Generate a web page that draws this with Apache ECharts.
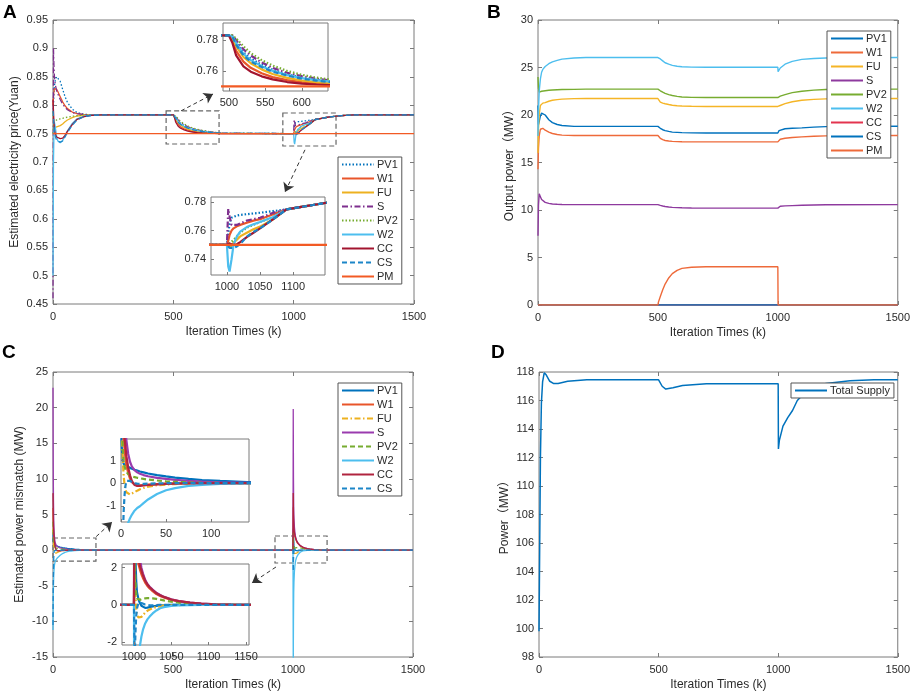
<!DOCTYPE html>
<html>
<head>
<meta charset="utf-8">
<title>Iteration results</title>
<script src="https://cdn.jsdelivr.net/npm/echarts@6.0.0/dist/echarts.min.js"></script>
<style>
  html, body { margin: 0; padding: 0; background: #fff; }
  #chart { width: 913px; height: 696px; }
</style>
</head>
<body>
<div id="chart"></div>
<script>
// ---- data ----
// A: estimated electricity price (Yuan)
const iterA = [0, 2, 4, 6, 10, 15, 20, 30, 40, 50, 60, 80, 100, 130, 160, 200,
  500, 505, 510, 520, 530, 545, 560, 580, 600, 620, 640, 670, 700,
  1000, 1002, 1004, 1007, 1010, 1015, 1020, 1030, 1040, 1050, 1070, 1090, 1110, 1130, 1150, 1200, 1250, 1500];
const pv1A = [0.78, 0.80, 0.82, 0.835, 0.845, 0.85, 0.85, 0.842, 0.828, 0.815, 0.805, 0.793, 0.787, 0.784, 0.783, 0.783,
  0.783, 0.7825, 0.779, 0.772, 0.768, 0.764, 0.7608, 0.7578, 0.7557, 0.7542, 0.7531, 0.7515, 0.7505,
  0.75, 0.758, 0.765, 0.769, 0.7698, 0.7705, 0.771, 0.7715, 0.772, 0.7725, 0.7737, 0.7748, 0.7764, 0.7779, 0.7795, 0.7818, 0.7828, 0.783];
const w1A = [0.80, 0.815, 0.825, 0.829, 0.83, 0.828, 0.824, 0.815, 0.806, 0.799, 0.794, 0.788, 0.785, 0.7835, 0.783, 0.783,
  0.783, 0.780, 0.773, 0.766, 0.762, 0.7585, 0.756, 0.754, 0.7528, 0.752, 0.7513, 0.7506, 0.7502,
  0.75, 0.753, 0.757, 0.760, 0.7616, 0.763, 0.764, 0.7655, 0.767, 0.768, 0.7715, 0.7748, 0.7764, 0.7779, 0.7795, 0.7818, 0.7828, 0.783];
const fuA = [0.79, 0.77, 0.76, 0.757, 0.76, 0.762, 0.763, 0.764, 0.767, 0.771, 0.774, 0.778, 0.781, 0.7825, 0.783, 0.783,
  0.783, 0.781, 0.776, 0.769, 0.765, 0.761, 0.758, 0.7555, 0.7538, 0.7527, 0.752, 0.751, 0.7503,
  0.75, 0.7485, 0.7477, 0.749, 0.7515, 0.7537, 0.756, 0.7585, 0.761, 0.7628, 0.768, 0.7748, 0.7764, 0.7779, 0.7795, 0.7818, 0.7828, 0.783];
const sA = [0.46, 0.9, 0.87, 0.85, 0.835, 0.826, 0.82, 0.81, 0.802, 0.796, 0.792, 0.787, 0.785, 0.7835, 0.783, 0.783,
  0.783, 0.783, 0.780, 0.774, 0.770, 0.7655, 0.762, 0.7588, 0.7566, 0.755, 0.7538, 0.752, 0.7508,
  0.75, 0.7751, 0.770, 0.764, 0.7628, 0.764, 0.765, 0.767, 0.768, 0.769, 0.7725, 0.7748, 0.7764, 0.7779, 0.7795, 0.7818, 0.7828, 0.783];
const pv2A = [0.75, 0.765, 0.77, 0.772, 0.773, 0.774, 0.775, 0.776, 0.777, 0.778, 0.779, 0.7805, 0.7815, 0.7825, 0.783, 0.783,
  0.783, 0.783, 0.781, 0.776, 0.7715, 0.767, 0.7635, 0.760, 0.7575, 0.7557, 0.7543, 0.7523, 0.751,
  0.75, 0.75, 0.751, 0.752, 0.7535, 0.756, 0.7585, 0.762, 0.764, 0.766, 0.7695, 0.7748, 0.7764, 0.7779, 0.7795, 0.7818, 0.7828, 0.783];
const w2A = [0.50, 0.70, 0.75, 0.77, 0.76, 0.745, 0.737, 0.734, 0.738, 0.746, 0.755, 0.768, 0.776, 0.781, 0.7825, 0.783,
  0.783, 0.782, 0.778, 0.771, 0.767, 0.763, 0.760, 0.7573, 0.7553, 0.754, 0.753, 0.7514, 0.7505,
  0.75, 0.735, 0.7314, 0.740, 0.750, 0.756, 0.7593, 0.7625, 0.7644, 0.766, 0.7695, 0.7748, 0.7764, 0.7779, 0.7795, 0.7818, 0.7828, 0.783];
const ccA = [0.81, 0.79, 0.77, 0.757, 0.748, 0.744, 0.742, 0.741, 0.742, 0.747, 0.754, 0.766, 0.775, 0.780, 0.782, 0.783,
  0.783, 0.778, 0.770, 0.763, 0.7595, 0.7565, 0.7545, 0.7528, 0.7518, 0.7512, 0.7508, 0.7504, 0.7502,
  0.75, 0.751, 0.751, 0.7505, 0.750, 0.7505, 0.752, 0.7555, 0.7585, 0.7616, 0.768, 0.7748, 0.7764, 0.7779, 0.7795, 0.7818, 0.7828, 0.783];
const csA = [0.79, 0.78, 0.765, 0.755, 0.745, 0.738, 0.736, 0.735, 0.737, 0.744, 0.752, 0.765, 0.774, 0.78, 0.782, 0.783,
  0.783, 0.782, 0.777, 0.770, 0.766, 0.7625, 0.7595, 0.757, 0.755, 0.7537, 0.7528, 0.7513, 0.7505,
  0.75, 0.749, 0.748, 0.7477, 0.748, 0.749, 0.7505, 0.7558, 0.759, 0.7616, 0.768, 0.7748, 0.7764, 0.7779, 0.7795, 0.7818, 0.7828, 0.783];
const iterPM = [0, 1500];
const pmA = [0.75, 0.75];

// B: output power (MW)
const iterB = [0, 2, 5, 10, 15, 20, 30, 45, 60, 80, 100, 150, 200, 500, 502, 510, 520, 530, 545, 560,
  580, 600, 640, 700, 1000, 1001, 1005, 1010, 1030, 1060, 1100, 1150, 1200, 1500];
const pv1B = [21.0, 19.0, 19.3, 19.9, 20.2, 20.3, 20.0, 19.5, 19.2, 19.0, 18.9, 18.8, 18.8, 18.8, 18.75, 18.6, 18.45, 18.35, 18.27, 18.2,
  18.17, 18.14, 18.12, 18.1, 18.1, 18.1, 18.35, 18.5, 18.55, 18.6, 18.65, 18.72, 18.78, 18.82];
const w1B = [14.3, 16.5, 17.8, 18.5, 18.7, 18.6, 18.4, 18.2, 18.05, 17.95, 17.88, 17.84, 17.84, 17.84, 17.75, 17.55, 17.4, 17.32, 17.26, 17.22,
  17.2, 17.18, 17.17, 17.17, 17.17, 17.2, 17.35, 17.45, 17.55, 17.63, 17.7, 17.76, 17.8, 17.84];
const fuB = [16.0, 18.5, 20.0, 21.0, 21.2, 21.25, 21.3, 21.45, 21.55, 21.62, 21.67, 21.72, 21.73, 21.73, 21.6, 21.35, 21.25, 21.18, 21.1, 21.03,
  20.98, 20.95, 20.92, 20.9, 20.9, 20.85, 20.9, 21.0, 21.2, 21.4, 21.55, 21.65, 21.7, 21.73];
const sB = [7.3, 10.5, 11.7, 11.4, 11.1, 10.95, 10.8, 10.7, 10.63, 10.6, 10.58, 10.57, 10.57, 10.57, 10.55, 10.48, 10.42, 10.37, 10.32, 10.28,
  10.25, 10.23, 10.21, 10.2, 10.2, 10.2, 10.35, 10.4, 10.43, 10.46, 10.5, 10.53, 10.55, 10.57];
const pv2B = [24.0, 22.8, 22.4, 22.45, 22.5, 22.52, 22.55, 22.6, 22.63, 22.66, 22.68, 22.7, 22.72, 22.72, 22.68, 22.55, 22.4, 22.28, 22.15, 22.05,
  21.96, 21.9, 21.86, 21.84, 21.84, 21.84, 21.9, 21.98, 22.15, 22.35, 22.5, 22.62, 22.68, 22.72];
const w2B = [17.8, 20.5, 22.5, 23.8, 24.5, 24.8, 25.1, 25.4, 25.6, 25.75, 25.88, 26.0, 26.05, 26.05, 26.0, 25.9, 25.7, 25.5, 25.35, 25.22,
  25.13, 25.08, 25.04, 25.03, 25.03, 24.55, 24.75, 24.95, 25.35, 25.65, 25.85, 25.95, 26.0, 26.05];
const iterFlatB = [0, 1500];
const ccB = [0, 0];
const csB = [0, 0];
const pmB = [0, 0, 0, 0, 0, 0, 0, 0, 0, 0, 0, 0, 0, 0, 0.3, 0.9, 1.6, 2.2, 2.85, 3.3,
  3.65, 3.85, 3.98, 4.02, 4.02, 0, 0, 0, 0, 0, 0, 0, 0, 0];

// C: estimated power mismatch (MW)
const iterC = [0, 1, 2, 3, 4, 5, 6, 8, 10, 12, 15, 18, 21, 25, 30, 40, 50, 60, 75, 90, 110, 140, 200,
  1000, 1001, 1002, 1003, 1004, 1006, 1008, 1010, 1012, 1015, 1018, 1021, 1025, 1030, 1035, 1040, 1050, 1060, 1075, 1090, 1110, 1130, 1150, 1200, 1500];
const pv1C = [2.5, 1.5, 1.0, 0.85, 0.82, 0.8, 0.78, 0.72, 0.68, 0.64, 0.6, 0.56, 0.52, 0.48, 0.43, 0.36, 0.3, 0.25, 0.19, 0.14, 0.1, 0.05, 0,
  0, 3.0, 2.5, 1.3, 0.7, 0.3, 0.1, -0.05, -0.12, -0.16, -0.15, -0.12, -0.08, -0.05, -0.03, -0.02, 0, 0, 0, 0, 0, 0, 0, 0, 0];
const w1C = [5.9, 3.5, 2.5, 1.9, 1.5, 1.1, 0.8, 0.45, 0.2, 0.05, -0.05, -0.1, -0.1, -0.08, -0.06, -0.04, -0.02, -0.01, 0, 0, 0, 0, 0,
  0, 6, 4, 3.2, 2.7, 2.2, 1.9, 1.65, 1.45, 1.2, 1.02, 0.88, 0.74, 0.58, 0.48, 0.4, 0.27, 0.19, 0.11, 0.06, 0.03, 0.01, 0, 0, 0];
const fuC = [3.0, 2.0, 1.0, 0.3, -0.1, -0.3, -0.4, -0.48, -0.5, -0.47, -0.4, -0.33, -0.27, -0.21, -0.15, -0.09, -0.06, -0.04, -0.02, -0.01, 0, 0, 0,
  0, 1.5, 0.5, -0.2, -0.5, -0.68, -0.7, -0.65, -0.55, -0.42, -0.32, -0.25, -0.18, -0.11, -0.07, -0.04, -0.02, -0.01, 0, 0, 0, 0, 0, 0, 0];
const sC = [22.8, 12, 7, 4.5, 3.2, 2.4, 1.9, 1.3, 0.95, 0.75, 0.58, 0.48, 0.42, 0.36, 0.31, 0.24, 0.19, 0.15, 0.1, 0.07, 0.04, 0.02, 0,
  0, 19.8, 10, 6, 4.5, 3.2, 2.5, 2.0, 1.7, 1.35, 1.12, 0.98, 0.82, 0.65, 0.53, 0.44, 0.3, 0.2, 0.12, 0.07, 0.03, 0.01, 0, 0, 0];
const pv2C = [4, 2.5, 1.5, 1.0, 0.75, 0.6, 0.5, 0.4, 0.35, 0.3, 0.27, 0.24, 0.22, 0.19, 0.16, 0.12, 0.08, 0.06, 0.04, 0.02, 0.01, 0, 0,
  0, 2.5, 1.2, 0.6, 0.35, 0.27, 0.27, 0.3, 0.33, 0.35, 0.36, 0.36, 0.35, 0.32, 0.28, 0.24, 0.17, 0.12, 0.07, 0.04, 0.02, 0.01, 0, 0, 0];
const w2C = [-11.2, -7, -5, -3.8, -3.0, -2.5, -2.1, -1.75, -1.55, -1.4, -1.22, -1.1, -1.02, -0.88, -0.72, -0.48, -0.31, -0.22, -0.12, -0.07, -0.03, -0.01, 0,
  0, -17, -10, -6, -4.5, -3.0, -2.2, -1.7, -1.35, -1.0, -0.78, -0.63, -0.46, -0.3, -0.18, -0.12, -0.06, -0.03, -0.01, 0, 0, 0, 0, 0, 0];
const ccC = [8, 5, 3.5, 2.6, 2.0, 1.6, 1.2, 0.7, 0.35, 0.1, -0.08, -0.12, -0.12, -0.1, -0.08, -0.05, -0.03, -0.02, -0.01, 0, 0, 0, 0,
  0, 8, 5, 3.8, 3.0, 2.5, 2.1, 1.85, 1.6, 1.3, 1.1, 0.95, 0.8, 0.63, 0.52, 0.43, 0.29, 0.2, 0.12, 0.07, 0.03, 0.01, 0, 0, 0];
const csC = [-10.5, -5, -2.5, -1.2, -0.5, -0.1, 0.1, 0.15, 0.1, 0.05, 0, -0.02, -0.03, -0.03, -0.02, -0.01, 0, 0, 0, 0, 0, 0, 0,
  0, -3, -1.5, -0.6, -0.2, 0.1, 0.15, 0.1, 0.05, 0.02, 0, -0.02, -0.02, -0.01, 0, 0, 0, 0, 0, 0, 0, 0, 0, 0, 0];

// D: total supply (MW)
const iterD = [0, 3, 6, 10, 15, 22, 30, 45, 60, 80, 120, 200, 500, 505, 515, 530, 560, 600, 700, 1000,
  1001, 1005, 1020, 1040, 1060, 1080, 1100, 1150, 1200, 1300, 1400, 1500];
const supplyD = [99.8, 106, 112, 115.8, 117.3, 117.95, 117.8, 117.35, 117.2, 117.2, 117.35, 117.45, 117.45, 117.4, 117.0, 116.8, 116.9, 117.05, 117.18, 117.18,
  112.6, 113.2, 114.2, 114.8, 115.3, 116.0, 116.35, 116.9, 117.2, 117.38, 117.45, 117.45];

const namesAB = ['PV1', 'W1', 'FU', 'S', 'PV2', 'W2', 'CC', 'CS', 'PM'];
const namesC = ['PV1', 'W1', 'FU', 'S', 'PV2', 'W2', 'CC', 'CS'];

// ---- styles ----
const FONT = "'Liberation Sans', Arial, 'Noto Sans CJK SC', sans-serif";
const FRAME = '#7a7a7a';
const TEXT = '#2a2a2a';
const SOLID = 'solid';
const DOT = [1.5, 2];
const DASH = [5, 3];
const DASHDOT = [6, 2.5, 1.5, 2.5];

function zip(xs, ys) {
  return xs.map((x, i) => [x, ys[i]]);
}

function line(name, xs, ys, color, dash, width, axis, z) {
  return {
    type: 'line',
    name: name,
    data: zip(xs, ys),
    xAxisIndex: axis,
    yAxisIndex: axis,
    symbol: 'none',
    color: color,
    z: z,
    silent: true,
    lineStyle: { color: color, width: width, type: dash }
  };
}

// grid index: 0 A, 1 A-inset1, 2 A-inset2, 3 B, 4 C, 5 C-inset1, 6 C-inset2, 7 D
const grids = [
  { left: 53, top: 20, width: 361, height: 284 },
  { left: 223, top: 23, width: 105, height: 68, z: 10 },
  { left: 211, top: 197, width: 114, height: 78, z: 10 },
  { left: 538, top: 20, width: 361, height: 285 },
  { left: 53, top: 372, width: 360, height: 285 },
  { left: 121, top: 439, width: 128, height: 83, z: 10 },
  { left: 122, top: 564, width: 127, height: 81, z: 10 },
  { left: 539, top: 372, width: 360, height: 285 }
].map(g => Object.assign({ show: true, backgroundColor: '#fff', borderColor: FRAME, borderWidth: 1 }, g));

const plain = v => String(v);
const labelStyle = { color: TEXT, fontSize: 11, fontFamily: FONT, formatter: plain };
const tickStyle = { inside: true, length: 4, lineStyle: { color: FRAME } };

function mainX(grid, name) {
  return {
    type: 'value', gridIndex: grid, min: 0, max: 1500, interval: 500,
    name: name, nameLocation: 'middle', nameGap: 22,
    nameTextStyle: { color: TEXT, fontSize: 12, fontFamily: FONT },
    axisLine: { show: false, onZero: false },
    axisTick: tickStyle,
    axisLabel: Object.assign({ margin: 7 }, labelStyle),
    splitLine: { show: false }
  };
}
function mainY(grid, min, max, interval, name, gap) {
  return {
    type: 'value', gridIndex: grid, min: min, max: max, interval: interval,
    name: name, nameLocation: 'middle', nameGap: gap,
    nameTextStyle: { color: TEXT, fontSize: 12, fontFamily: FONT },
    axisLine: { show: false, onZero: false },
    axisTick: tickStyle,
    axisLabel: Object.assign({ margin: 5 }, labelStyle),
    splitLine: { show: false }
  };
}
function mirror(axis, position) {
  return Object.assign({}, axis, {
    position: position, name: '', axisLabel: { show: false }
  });
}
function insetAxis(grid, min, max, ticks, margin) {
  return {
    type: 'value', gridIndex: grid, min: min, max: max, z: 12,
    axisLine: { show: false, onZero: false },
    axisTick: { inside: true, length: 3, lineStyle: { color: FRAME }, customValues: ticks },
    axisLabel: Object.assign({ margin: margin, customValues: ticks }, labelStyle),
    splitLine: { show: false }
  };
}

const xMainA = mainX(0, 'Iteration Times (k)');
const xMainB = mainX(3, 'Iteration Times (k)');
const xMainC = mainX(4, 'Iteration Times (k)');
const xMainD = mainX(7, 'Iteration Times (k)');
const yMainA = mainY(0, 0.45, 0.95, 0.05, 'Estimated electricity price(Yuan)', 32);
const yMainB = mainY(3, 0, 30, 5, 'Output power（MW）', 22);
const yMainC = mainY(4, -15, 25, 5, 'Estimated power mismatch (MW)', 27);
const yMainD = mainY(7, 98, 118, 2, 'Power（MW）', 28);

const xAxes = [
  xMainA,
  insetAxis(1, 492, 636, [500, 550, 600], 6),
  insetAxis(2, 976, 1148, [1000, 1050, 1100], 6),
  xMainB,
  xMainC,
  insetAxis(5, 0, 142, [0, 50, 100], 6),
  insetAxis(6, 984, 1154, [1000, 1050, 1100, 1150], 6),
  xMainD,
  mirror(xMainA, 'top'), mirror(xMainB, 'top'), mirror(xMainC, 'top'), mirror(xMainD, 'top')
];
const yAxes = [
  yMainA,
  insetAxis(1, 0.747, 0.791, [0.76, 0.78], 5),
  insetAxis(2, 0.729, 0.7835, [0.74, 0.76, 0.78], 5),
  yMainB,
  yMainC,
  insetAxis(5, -1.72, 1.96, [-1, 0, 1], 5),
  insetAxis(6, -2.16, 2.2, [-2, 0, 2], 5),
  yMainD,
  mirror(yMainA, 'right'), mirror(yMainB, 'right'), mirror(yMainC, 'right'), mirror(yMainD, 'right')
];

// ---- series ----
const colorsA = ['#0072BD', '#E8552A', '#EDB120', '#7E2F8E', '#77AC30', '#4DBEEE', '#A2142F', '#1C86C8', '#F25A24'];
const dashA = [DOT, SOLID, SOLID, DASHDOT, DOT, SOLID, SOLID, DASH, SOLID];
const seriesA = [
  [iterA, pv1A], [iterA, w1A], [iterA, fuA], [iterA, sA], [iterA, pv2A],
  [iterA, w2A], [iterA, ccA], [iterA, csA], [iterPM, pmA]
];
const colorsB = ['#0072BD', '#EE6A3A', '#F5B526', '#8E3A9E', '#77AC30', '#4DBEEE', '#E3344F', '#0072BD', '#EE6A3A'];
const seriesB = [
  [iterB, pv1B], [iterB, w1B], [iterB, fuB], [iterB, sB], [iterB, pv2B],
  [iterB, w2B], [iterFlatB, ccB], [iterFlatB, csB], [iterB, pmB]
];
const colorsC = ['#0072BD', '#E8552A', '#EDB120', '#9A3BAE', '#77AC30', '#4DBEEE', '#B0243F', '#1C86C8'];
const dashC = [SOLID, SOLID, DASHDOT, SOLID, DASH, SOLID, SOLID, DASH];
const seriesC = [
  [iterC, pv1C], [iterC, w1C], [iterC, fuC], [iterC, sC], [iterC, pv2C],
  [iterC, w2C], [iterC, ccC], [iterC, csC]
];

const series = [];
namesAB.forEach((n, i) => {
  series.push(line('A:' + n, seriesA[i][0], seriesA[i][1], colorsA[i], dashA[i], 1.3, 0, 2));
});
namesAB.forEach((n, i) => {
  series.push(line('A:' + n, seriesA[i][0], seriesA[i][1], colorsA[i], dashA[i], 2.2, 1, 11));
  series.push(line('A:' + n, seriesA[i][0], seriesA[i][1], colorsA[i], dashA[i], 2.2, 2, 11));
});
namesAB.forEach((n, i) => {
  series.push(line('B:' + n, seriesB[i][0], seriesB[i][1], colorsB[i], SOLID, 1.4, 3, 2));
});
namesC.forEach((n, i) => {
  series.push(line('C:' + n, seriesC[i][0], seriesC[i][1], colorsC[i], dashC[i], 1.3, 4, 2));
});
namesC.forEach((n, i) => {
  series.push(line('C:' + n, seriesC[i][0], seriesC[i][1], colorsC[i], dashC[i], 2.2, 5, 11));
  series.push(line('C:' + n, seriesC[i][0], seriesC[i][1], colorsC[i], dashC[i], 2.2, 6, 11));
});
series.push(line('D:Total Supply', iterD, supplyD, '#0072BD', SOLID, 1.5, 7, 2));

// zoom boxes and arrows, placed in data space of the main panels
const boxStyle = { color: 'rgba(0,0,0,0)', borderColor: '#666', borderWidth: 1.2, borderType: [5, 3] };
const arrowStyle = { color: '#333', width: 1, type: [4, 3] };
const pmMain = series[8];
pmMain.markArea = {
  silent: true, label: { show: false }, itemStyle: boxStyle,
  data: [
    [{ coord: [470, 0.79] }, { coord: [690, 0.7317] }],
    [{ coord: [955, 0.7863] }, { coord: [1176, 0.7282] }]
  ]
};
pmMain.markLine = {
  silent: true, symbol: ['none', 'arrow'], symbolSize: 9, label: { show: false },
  lineStyle: arrowStyle,
  data: [
    [{ coord: [532, 0.79] }, { coord: [665, 0.8197] }],
    [{ coord: [1047, 0.7214] }, { coord: [964, 0.647] }]
  ]
};
const csMainC = series.find(s => s.name === 'C:CS' && s.xAxisIndex === 4);
csMainC.markArea = {
  silent: true, label: { show: false }, itemStyle: boxStyle,
  data: [
    [{ coord: [0, 1.7] }, { coord: [179, -1.53] }],
    [{ coord: [925, 1.98] }, { coord: [1142, -1.81] }]
  ]
};
csMainC.markLine = {
  silent: true, symbol: ['none', 'arrow'], symbolSize: 9, label: { show: false },
  lineStyle: arrowStyle,
  data: [
    [{ coord: [180, 1.9] }, { coord: [246, 3.95] }],
    [{ coord: [929, -2.37] }, { coord: [829, -4.6] }]
  ]
};

function legend(prefix, names, left, top) {
  return {
    orient: 'vertical', left: left, top: top, z: 20,
    data: names.map(n => prefix + n),
    formatter: name => name.slice(2),
    itemWidth: 32, itemHeight: 10, itemGap: 3,
    padding: [2, 4, 2, 3],
    itemStyle: { opacity: 0 },
    lineStyle: { width: 2 },
    backgroundColor: '#fff', borderColor: '#555', borderWidth: 1, borderRadius: 0,
    selectedMode: false,
    textStyle: { color: TEXT, fontSize: 11, fontFamily: FONT, padding: [0, 0, 0, -2] }
  };
}

function letter(text, left, top) {
  return { type: 'text', left: left, top: top, style: { text: text, font: 'bold 19px ' + FONT, fill: '#000' } };
}

const chart = echarts.init(document.getElementById('chart'));
chart.setOption({
  animation: false,
  backgroundColor: '#fff',
  grid: grids,
  xAxis: xAxes,
  yAxis: yAxes,
  legend: [
    legend('A:', namesAB, 338, 157),
    legend('B:', namesAB, 827, 31),
    legend('C:', namesC, 338, 383),
    legend('D:', ['Total Supply'], 791, 383)
  ],
  graphic: [
    letter('A', 3, 3), letter('B', 487, 3), letter('C', 2, 343), letter('D', 491, 343)
  ],
  series: series
});
</script>
</body>
</html>
